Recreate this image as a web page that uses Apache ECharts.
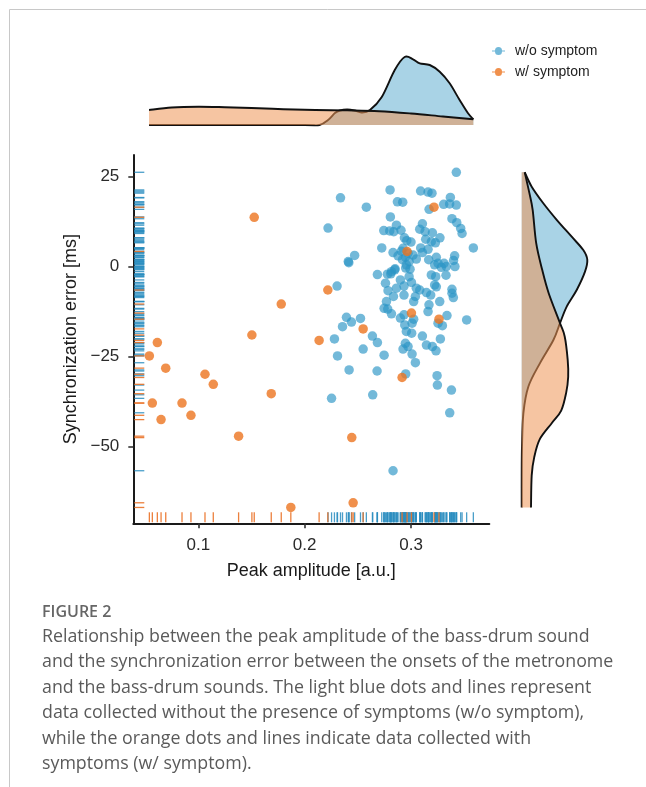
<!DOCTYPE html>
<html>
<head>
<meta charset="utf-8">
<script src="https://cdn.jsdelivr.net/npm/echarts@6/dist/echarts.min.js"></script>
<style>
html,body{margin:0;padding:0;background:#ffffff;}
#chart{width:646px;height:787px;}
</style>
</head>
<body>
<div id="chart"></div>
<script>
// ---------------- DATA ----------------
const seriesNames = ['w/o symptom', 'w/ symptom'];

// [peak amplitude, synchronization error]
const bluePoints = [
  [0.2337,19.1],[0.258,16.5],[0.222,10.7],[0.247,3.1],[0.241,1.4],[0.2415,1.1],[0.2305,-5.4],[0.2393,-14.1],
  [0.2525,-14.4],[0.244,-15.4],[0.2356,-16.7],[0.228,-20.1],[0.255,-22.9],
  [0.3426,26.2],[0.2803,21.3],[0.309,21.0],[0.316,20.7],[0.3197,20.4],[0.2872,18.0],[0.2922,17.9],[0.317,15.9],
  [0.3307,17.3],[0.3363,17.4],[0.3426,17.1],[0.337,19.2],[0.2806,13.8],[0.3385,13.3],[0.343,12.2],[0.3467,10.6],
  [0.348,9.2],[0.3107,11.9],[0.3082,10.4],[0.3132,9.7],[0.3201,9.4],[0.3272,8.0],[0.3138,7.6],[0.3191,6.9],
  [0.3229,6.6],[0.2744,10.0],[0.280,9.9],[0.2838,9.7],[0.2863,11.5],[0.2906,10.1],[0.2938,8.0],[0.296,7.2],
  [0.300,6.8],[0.2725,5.2],[0.3586,5.2],
  [0.2831,3.9],[0.2878,3.0],[0.2925,5.1],[0.2947,2.6],[0.2972,3.7],[0.3019,3.2],[0.2919,1.9],[0.2956,0.5],
  [0.305,2.1],[0.3091,5.2],[0.3107,3.9],[0.3166,1.9],[0.3238,2.6],[0.3222,0.5],[0.331,0.9],[0.341,3.0],
  [0.340,1.7],[0.3413,0.0],[0.3332,0.0],[0.291,4.3],[0.316,4.8],[0.3285,-0.2],[0.285,-0.6],[0.295,-0.4],
  [0.2991,-0.7],[0.2816,-1.4],[0.2982,1.4],[0.3254,0.9],
  [0.2684,-2.2],[0.2778,-2.1],[0.281,-2.0],[0.2847,-0.9],[0.290,-3.7],[0.2982,-2.8],[0.3004,-4.4],[0.2934,-5.4],
  [0.2863,-6.0],[0.276,-4.6],[0.2784,-6.7],[0.2835,-8.3],[0.2769,-9.7],[0.2747,-11.6],[0.2781,-11.8],[0.2816,-13.1],
  [0.2934,-7.9],[0.305,-6.0],[0.3041,-8.3],[0.3025,-9.7],[0.3082,-6.5],[0.3145,-7.2],[0.3185,-7.9],[0.3222,-5.1],
  [0.3238,-5.6],[0.3169,-10.6],[0.316,-12.5],[0.327,-9.7],[0.3191,-2.3],[0.3232,-2.8],[0.3329,-2.4],[0.3385,-6.3],
  [0.3385,-7.4],[0.3398,-8.6],[0.3338,-13.6],[0.3295,-16.4],[0.3254,-15.7],[0.3523,-14.8],[0.2934,-13.4],[0.29,-14.3],
  [0.3025,-14.6],[0.301,-15.7],[0.2941,-16.2],[0.2956,-18.0],[0.3006,-18.5],[0.3107,-19.3],[0.3145,-21.8],[0.3201,-22.2],
  [0.3276,-20.1],[0.2947,-21.3],[0.2972,-22.2],[0.2684,-21.1],[0.2637,-19.3],[0.2747,-24.6],[0.2309,-24.8],[0.2418,-28.7],
  [0.2681,-29.0],[0.2253,-36.6],[0.264,-35.6],[0.295,-29.8],[0.3245,-30.3],[0.3248,-32.9],[0.338,-34.3],[0.3041,-26.7],
  [0.301,-24.3],[0.2925,-22.9],[0.3235,-23.4],[0.2831,-56.7],[0.3364,-40.6]
];

const orangePoints = [
  [0.054,-24.8],[0.0568,-37.9],[0.0615,-21.1],[0.065,-42.5],[0.0694,-28.2],[0.0847,-37.9],[0.0931,-41.3],
  [0.1063,-29.9],[0.1141,-32.7],[0.1379,-47.1],[0.1504,-19.0],[0.1526,13.7],[0.1686,-35.3],[0.178,-10.4],
  [0.187,-66.9],[0.2136,-20.5],[0.2218,-6.5],[0.2443,-47.5],[0.2456,-65.6],[0.255,-17.3],[0.2916,-30.8],
  [0.2963,4.2],[0.3004,-12.9],[0.3216,16.5],[0.3263,-14.6]
];

// marginal density of peak amplitude (scaled density): [x, density]
const topDensityBlue = [
  [0.0537,0],[0.1,0],[0.15,0],[0.2,0],[0.214,0],[0.222,5],[0.2285,12],[0.2331,14.5],[0.24,15.5],[0.247,14.5],
  [0.2535,12.5],[0.2614,15],[0.2725,28],[0.2847,55],[0.294,68],[0.3019,65.7],[0.3082,61.7],[0.3176,60],
  [0.327,53.3],[0.3363,41.7],[0.3457,25],[0.3536,11.7],[0.3586,5.7]
];
const topDensityOrange = [
  [0.0537,15],[0.075,17.5],[0.1,18.3],[0.125,17.8],[0.15,17],[0.18,15.8],[0.21,15],[0.24,14.6],
  [0.27,13.8],[0.3,11.5],[0.33,8.5],[0.3586,5.7]
];

// marginal density of synchronization error (scaled density): [y, density]
const rightDensityBlue = [
  [26.2,3],[22.2,10],[17.6,21.6],[13,35],[8.3,50],[4.6,61.6],[1.9,65.6],[-1.4,63.3],[-6.5,55],[-11.1,45],
  [-15.7,38.3],[-20.4,31.7],[-26.8,18.3],[-33.3,6.7],[-40.7,1.7],[-50,0.3],[-58,0],[-66.9,0]
];
const rightDensityOrange = [
  [26.2,3],[20.4,7.7],[15.7,11],[6.5,14.5],[-0.9,20.5],[-7.4,27],[-15.7,38.3],[-19.4,43],[-25.9,46],
  [-30.6,46.5],[-35,44.5],[-40,39.5],[-43.5,30],[-48,18],[-53,12.5],[-58,10],[-66.9,9.3]
];

const xTicks = [0.1, 0.2, 0.3];
const yTicks = [25, 0, -25, -50];
const xTitle = 'Peak amplitude [a.u.]';
const yTitle = 'Synchronization error [ms]';
const figureLabel = 'FIGURE 2';
const captionLines = [
  'Relationship between the peak amplitude of the bass-drum sound',
  'and the synchronization error between the onsets of the metronome',
  'and the bass-drum sounds. The light blue dots and lines represent',
  'data collected without the presence of symptoms (w/o symptom),',
  'while the orange dots and lines indicate data collected with',
  'symptoms (w/ symptom).'
];

// ---------------- CHART ----------------
const FONT = '"Liberation Sans", Arial, Helvetica, sans-serif';
const CAP_FONT = '"Open Sans", Lato, sans-serif';
const X_MIN = 0.0389, X_MAX = 0.3736, Y_MIN = -71.3, Y_MAX = 31;
const BLUE = '#2a94c6', ORANGE = '#ec741f';
const BLUE_FILL = '#a9d3e6', ORANGE_FILL = 'rgba(238,150,86,0.55)';
const fmtMinus = v => String(v).replace('-', '\u2212');

function smoothPath(pts) {
  let d = 'M' + pts[0][0] + ',' + pts[0][1];
  for (let i = 0; i < pts.length - 1; i++) {
    const p0 = pts[i - 1] || pts[i], p1 = pts[i], p2 = pts[i + 1], p3 = pts[i + 2] || pts[i + 1];
    const c1 = [p1[0] + (p2[0] - p0[0]) / 6, p1[1] + (p2[1] - p0[1]) / 6];
    const c2 = [p2[0] - (p3[0] - p1[0]) / 6, p2[1] - (p3[1] - p1[1]) / 6];
    d += ' C' + c1[0] + ',' + c1[1] + ' ' + c2[0] + ',' + c2[1] + ' ' + p2[0] + ',' + p2[1];
  }
  return d;
}

// builds a renderItem that draws a filled density curve with a baseline at 0
function densityRenderer(points, horizontal, fill) {
  return function (params, api) {
    if (params.dataIndex !== 0) return null;
    const toVal = p => horizontal ? [p[1], p[0]] : [p[0], p[1]];
    const curve = points.map(p => api.coord(toVal(p)));
    const first = points[0], last = points[points.length - 1];
    const b1 = api.coord(horizontal ? [0, last[0]] : [last[0], 0]);
    const b0 = api.coord(horizontal ? [0, first[0]] : [first[0], 0]);
    const line = smoothPath(curve);
    const area = line + ' L' + b1[0] + ',' + b1[1] + ' L' + b0[0] + ',' + b0[1] + ' Z';
    return {
      type: 'group',
      children: [
        { type: 'path', shape: { pathData: area }, style: { fill: fill, stroke: null } },
        { type: 'path', shape: { pathData: line }, style: { fill: null, stroke: '#111111', lineWidth: 1.9 } }
      ]
    };
  };
}

const chart = echarts.init(document.getElementById('chart'), null, { renderer: 'canvas' });

const option = {
  backgroundColor: '#ffffff',
  animation: false,
  textStyle: { fontFamily: FONT },
  legend: {
    data: seriesNames,
    orient: 'vertical',
    left: 487,
    top: 39,
    itemWidth: 13,
    itemHeight: 8,
    itemGap: 7,
    icon: 'path://M0,3.5L3,3.5A3.5,3.5,0,1,1,10,3.5L13,3.5L13,4.5L10,4.5A3.5,3.5,0,1,1,3,4.5L0,4.5Z',
    textStyle: { fontSize: 14, color: '#222222', fontFamily: FONT, padding: [0, 0, 0, 5], lineHeight: 14 },
    selectedMode: false
  },
  grid: [
    { left: 133.3, top: 155, width: 356, height: 368.3, outerBoundsMode: 'none', containLabel: false },
    { left: 133.3, top: 50, width: 356, height: 75, outerBoundsMode: 'none', containLabel: false },
    { left: 521.7, top: 155, width: 75, height: 368.3, outerBoundsMode: 'none', containLabel: false }
  ],
  xAxis: [
    {
      gridIndex: 0, type: 'value', min: X_MIN, max: X_MAX,
      name: xTitle, nameLocation: 'middle', nameGap: 39,
      nameTextStyle: { fontSize: 18, color: '#1a1a1a', fontFamily: FONT },
      axisLine: { show: true, onZero: false, lineStyle: { color: '#1a1a1a', width: 2 } },
      axisTick: { show: true, length: 5, customValues: xTicks, lineStyle: { color: '#333333', width: 1.6 } },
      axisLabel: { customValues: xTicks, margin: 14, fontSize: 17, color: '#2a2a2a', fontFamily: FONT },
      splitLine: { show: false }
    },
    { gridIndex: 1, type: 'value', min: X_MIN, max: X_MAX, show: false },
    { gridIndex: 2, type: 'value', min: 0, max: 75, show: false }
  ],
  yAxis: [
    {
      gridIndex: 0, type: 'value', min: Y_MIN, max: Y_MAX,
      name: yTitle, nameLocation: 'middle', nameGap: 51,
      nameTextStyle: { fontSize: 18, color: '#1a1a1a', fontFamily: FONT },
      axisLine: { show: true, onZero: false, lineStyle: { color: '#1a1a1a', width: 2 } },
      axisTick: { show: true, length: 5, customValues: yTicks, lineStyle: { color: '#333333', width: 1.6 } },
      axisLabel: { customValues: yTicks, margin: 14, fontSize: 17, color: '#2a2a2a', fontFamily: FONT, formatter: fmtMinus },
      splitLine: { show: false }
    },
    { gridIndex: 1, type: 'value', min: 0, max: 75, show: false },
    { gridIndex: 2, type: 'value', min: Y_MIN, max: Y_MAX, show: false }
  ],
  series: [
    {
      name: 'top density w/o', type: 'custom', xAxisIndex: 1, yAxisIndex: 1, clip: false,
      data: topDensityBlue, encode: { x: 0, y: 1 },
      renderItem: densityRenderer(topDensityBlue, false, BLUE_FILL), z: 1
    },
    {
      name: 'top density w/', type: 'custom', xAxisIndex: 1, yAxisIndex: 1, clip: false,
      data: topDensityOrange, encode: { x: 0, y: 1 },
      renderItem: densityRenderer(topDensityOrange, false, ORANGE_FILL), z: 2
    },
    {
      name: 'right density w/o', type: 'custom', xAxisIndex: 2, yAxisIndex: 2, clip: false,
      data: rightDensityBlue.map(p => [p[1], p[0]]), encode: { x: 0, y: 1 },
      renderItem: densityRenderer(rightDensityBlue, true, BLUE_FILL), z: 1
    },
    {
      name: 'right density w/', type: 'custom', xAxisIndex: 2, yAxisIndex: 2, clip: false,
      data: rightDensityOrange.map(p => [p[1], p[0]]), encode: { x: 0, y: 1 },
      renderItem: densityRenderer(rightDensityOrange, true, ORANGE_FILL), z: 2
    },
    {
      name: 'rug x w/o', type: 'scatter', xAxisIndex: 0, yAxisIndex: 0, clip: false, silent: true,
      data: bluePoints.map(p => [p[0], Y_MIN]), symbol: 'rect', symbolSize: [1.3, 10], symbolOffset: [0, -6],
      itemStyle: { color: '#2a8dbf', opacity: 0.85 }, z: 3
    },
    {
      name: 'rug x w/', type: 'scatter', xAxisIndex: 0, yAxisIndex: 0, clip: false, silent: true,
      data: orangePoints.map(p => [p[0], Y_MIN]), symbol: 'rect', symbolSize: [1.3, 10], symbolOffset: [0, -6],
      itemStyle: { color: '#ea7228', opacity: 0.9 }, z: 3
    },
    {
      name: 'rug y w/o', type: 'scatter', xAxisIndex: 0, yAxisIndex: 0, clip: false, silent: true,
      data: bluePoints.map(p => [X_MIN, p[1]]), symbol: 'rect', symbolSize: [10, 1.3], symbolOffset: [6, 0],
      itemStyle: { color: '#2a8dbf', opacity: 0.85 }, z: 3
    },
    {
      name: 'rug y w/', type: 'scatter', xAxisIndex: 0, yAxisIndex: 0, clip: false, silent: true,
      data: orangePoints.map(p => [X_MIN, p[1]]), symbol: 'rect', symbolSize: [10, 1.3], symbolOffset: [6, 0],
      itemStyle: { color: '#ea7228', opacity: 0.9 }, z: 3
    },
    {
      name: seriesNames[0], type: 'scatter', xAxisIndex: 0, yAxisIndex: 0,
      data: bluePoints, symbol: 'circle', symbolSize: 9.5,
      itemStyle: { color: BLUE, opacity: 0.66 }, z: 4
    },
    {
      name: seriesNames[1], type: 'scatter', xAxisIndex: 0, yAxisIndex: 0,
      data: orangePoints, symbol: 'circle', symbolSize: 9.5,
      itemStyle: { color: ORANGE, opacity: 0.8 }, z: 5
    }
  ],
  graphic: [
    { type: 'line', shape: { x1: 9.5, y1: 9.5, x2: 9.5, y2: 787 }, style: { stroke: '#c8c8c8', lineWidth: 1 }, silent: true },
    { type: 'line', shape: { x1: 9.5, y1: 9.5, x2: 646, y2: 9.5 }, style: { stroke: '#c8c8c8', lineWidth: 1 }, silent: true },
    {
      type: 'text', x: 42, y: 612,
      style: { text: figureLabel, font: '600 16px ' + CAP_FONT, fill: '#666666', textVerticalAlign: 'middle', verticalAlign: 'middle' }
    }
  ].concat(captionLines.map((t, i) => ({
    type: 'text', x: 42, y: 637 + i * 25.4,
    style: { text: t, font: '17.8px ' + CAP_FONT, fill: '#5a5a5a', textVerticalAlign: 'middle', verticalAlign: 'middle' }
  })))
};

chart.setOption(option);
</script>
</body>
</html>
